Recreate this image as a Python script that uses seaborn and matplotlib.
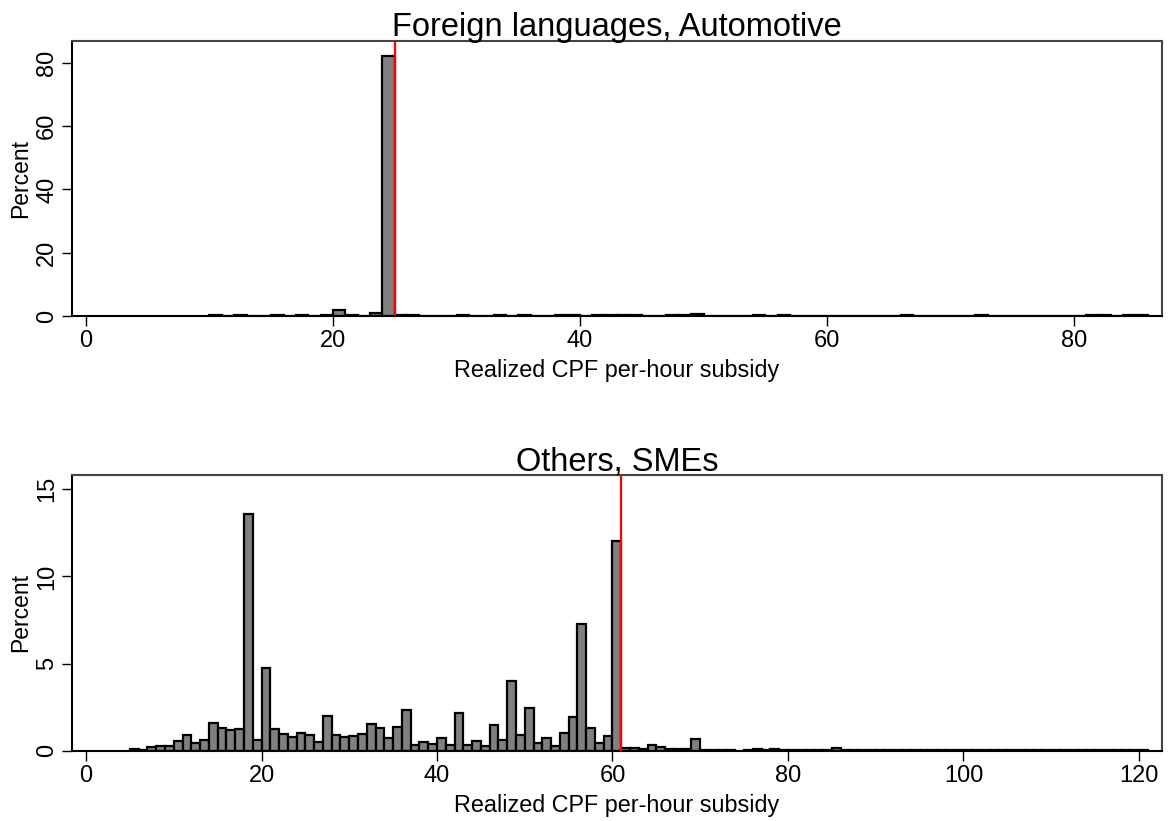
import numpy as np
import pandas as pd
import seaborn as sns
import matplotlib.pyplot as plt

# top panel: Foreign languages, Automotive  (bins of width 1, value = left edge)
top_bins = [10, 12, 15, 17, 19, 20, 21, 22, 23, 24, 25, 26, 30, 33, 35, 38, 39,
            41, 42, 43, 44, 47, 48, 49, 54, 56, 66, 72, 81, 82, 84, 85]
top_pct = [0.2, 0.2, 0.2, 0.2, 0.35, 2.0, 0.25, 0.1, 0.8, 82.2, 0.2, 0.2, 0.2, 0.2, 0.2, 0.2, 0.2,
           0.2, 0.2, 0.2, 0.35, 0.2, 0.2, 0.55, 0.2, 0.2, 0.2, 0.2, 0.2, 0.2, 0.2, 0.35]
top_cap = 25

# bottom panel: Others, SMEs  (bins 5 .. 120)
bot_bins = list(range(5, 121))
bot_pct = [
    0.10, 0.03, 0.19, 0.25, 0.29, 0.53, 0.88, 0.46, 0.61, 1.60,   # 5-14
    1.33, 1.18, 1.22, 13.6, 0.63, 4.76, 1.22, 0.95, 0.76, 1.00,   # 15-24
    0.91, 0.51, 1.98, 0.91, 0.80, 0.86, 0.95, 1.52, 1.33, 0.72,   # 25-34
    1.37, 2.36, 0.34, 0.48, 0.38, 0.72, 0.34, 2.17, 0.32, 0.53,   # 35-44
    0.29, 1.45, 0.61, 4.00, 0.91, 2.48, 0.46, 0.72, 0.27, 1.03,   # 45-54
    1.96, 7.28, 1.33, 0.46, 0.84, 12.05, 0.15, 0.15, 0.11, 0.34,  # 55-64
    0.20, 0.10, 0.08, 0.08, 0.67, 0.03, 0.02, 0.02, 0.04, 0.01,   # 65-74
    0.02, 0.10, 0.05, 0.12, 0.05, 0.05, 0.02, 0.03, 0.03, 0.03,   # 75-84
    0.14, 0.03, 0.02, 0.02, 0.02, 0.02, 0.02, 0.02, 0.02, 0.02,   # 85-94
    0.02, 0.02, 0.02, 0.05, 0.02, 0.02, 0.02, 0.05, 0.05, 0.02,   # 95-104
    0.02, 0.05, 0.05, 0.02, 0.02, 0.05, 0.02, 0.02, 0.05, 0.02,   # 105-114
    0.02, 0.02, 0.05, 0.02, 0.05, 0.05,                           # 115-120
]
bot_cap = 61

sns.set_style("white")
plt.rcParams['font.family'] = ['Liberation Sans', 'DejaVu Sans']
plt.rcParams.update({'text.color': 'black', 'axes.labelcolor': 'black',
                     'xtick.color': 'black', 'ytick.color': 'black'})

fig = plt.figure(figsize=(11.69, 8.21), dpi=100)
ax1 = fig.add_axes([0.0616, 0.6151, 0.9322, 0.3353])
ax2 = fig.add_axes([0.0616, 0.0856, 0.9322, 0.3358])


def panel(ax, bins, pct, cap, title, xlim, ylim, xticks, yticks):
    df = pd.DataFrame({'x': np.array(bins, dtype=float) + 0.5, 'pct': pct})
    sns.histplot(data=df, x='x', weights='pct', binwidth=1,
                 binrange=(min(bins), max(bins) + 1), stat='count',
                 color='#808080', edgecolor='black', linewidth=1.6, alpha=1, ax=ax)
    ax.axvline(cap, color='red', lw=1.6, zorder=5)
    ax.set_xlim(*xlim)
    ax.set_ylim(*ylim)
    ax.set_xticks(xticks)
    ax.set_yticks(yticks)
    ax.set_title(title, fontsize=23.5, pad=3.5)
    ax.set_xlabel('Realized CPF per-hour subsidy', fontsize=16.8, labelpad=5)
    ax.set_ylabel('Percent', fontsize=16.5, labelpad=3)
    ax.tick_params(axis='both', direction='out', length=7, width=1, labelsize=17,
                   bottom=True, left=True, pad=3)
    plt.setp(ax.get_yticklabels(), rotation=90, va='center')
    for side in ['left', 'bottom']:
        ax.spines[side].set_color('black')
        ax.spines[side].set_linewidth(1.5)
    for side in ['top', 'right']:
        ax.spines[side].set_color('#444444')
        ax.spines[side].set_linewidth(1.5)


panel(ax1, top_bins, top_pct, top_cap, 'Foreign languages, Automotive',
      (-1.13, 87.1), (0, 86.96), [0, 20, 40, 60, 80], [0, 20, 40, 60, 80])
panel(ax2, bot_bins, bot_pct, bot_cap, 'Others, SMEs',
      (-1.6, 122.6), (0, 15.82), [0, 20, 40, 60, 80, 100, 120], [0, 5, 10, 15])

fig.savefig('out.png', dpi=100)
